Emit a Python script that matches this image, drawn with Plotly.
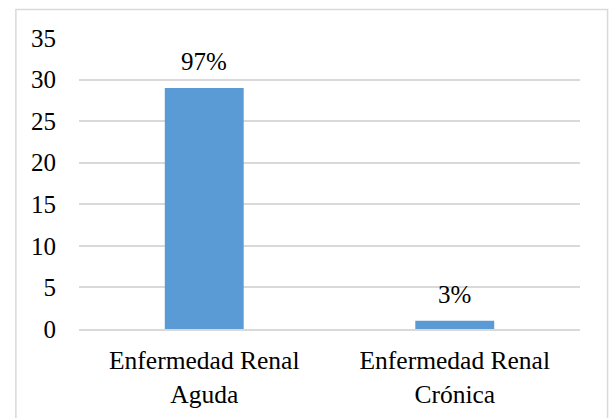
import plotly.graph_objects as go

categories = ["Enfermedad Renal<br>Aguda", "Enfermedad Renal<br>Crónica"]
values = [29, 1]
labels = ["97%", "3%"]
y_ticks = [0, 5, 10, 15, 20, 25, 30, 35]

FONT = "'Liberation Serif', 'Times New Roman', Times, serif"
GRID = "#D9D9D9"
FS = 25

fig = go.Figure()
fig.add_trace(go.Bar(
    x=categories, y=values,
    marker=dict(color="#5B9BD5", line=dict(width=0)),
    width=0.315,
    hoverinfo="skip",
))

for c, v, t in zip(categories, values, labels):
    fig.add_annotation(x=c, y=v, text=t, showarrow=False,
                       yanchor="middle", yshift=26,
                       font=dict(family=FONT, size=FS, color="#000000"))

fig.add_shape(type="rect", xref="paper", yref="paper",
              x0=-0.126, x1=1.055, y0=-0.34, y1=1.098,
              line=dict(color=GRID, width=1.5), fillcolor="rgba(0,0,0,0)")

fig.update_layout(
    width=613, height=418,
    margin=dict(l=79, r=33, t=37.5, b=89, autoexpand=False),
    paper_bgcolor="white", plot_bgcolor="white",
    showlegend=False,
    font=dict(family=FONT, size=FS, color="#000000"),
)
fig.update_xaxes(showgrid=False, showline=True, linecolor=GRID, linewidth=1.5,
                 ticks="", tickfont=dict(family=FONT, size=25.5, color="#000000"),
                 ticklabelstandoff=8, automargin=False)
fig.update_yaxes(range=[0, 35], tickvals=y_ticks, showgrid=True, gridcolor=GRID,
                 gridwidth=1.5, zeroline=False, showline=False, ticks="",
                 tickfont=dict(family=FONT, size=FS, color="#000000"),
                 ticklabelstandoff=22, automargin=False)

fig.write_html(
    "out.html",
    config={"displayModeBar": False},
    post_script="document.body.style.margin='0px';document.body.style.overflow='hidden';",
)
